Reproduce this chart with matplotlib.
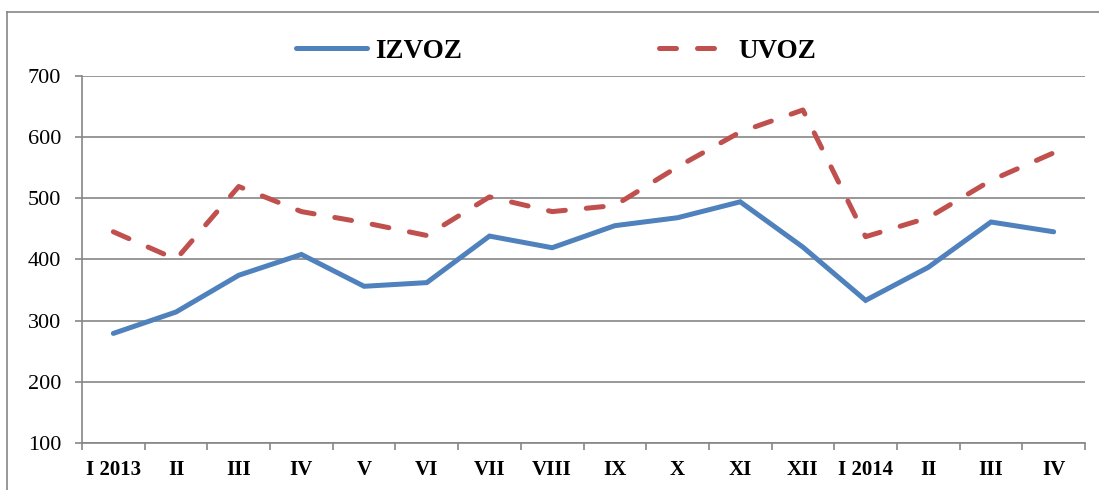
import matplotlib
matplotlib.use("Agg")
import matplotlib.pyplot as plt
from matplotlib.lines import Line2D
import numpy as np

categories = ["I 2013", "II", "III", "IV", "V", "VI", "VII", "VIII", "IX", "X",
              "XI", "XII", "I 2014", "II", "III", "IV"]
izvoz = [279, 314, 374, 408, 356, 362, 438, 419, 455, 468, 494, 420, 333, 387, 461, 445]
uvoz = [445, 400, 519, 478, 460, 439, 502, 478, 488, 551, 608, 644, 437, 468, 529, 574]
yticks = [100, 200, 300, 400, 500, 600, 700]

plt.rcParams['font.family'] = ['Liberation Serif', 'DejaVu Serif']

W, H = 1099, 490
fig = plt.figure(figsize=(W / 100, H / 100), dpi=100)
ax = fig.add_axes([82 / W, 1 - 443 / H, (1085 - 82) / W, (443 - 75.7) / H])

x = np.arange(len(categories))
blue = "#4F81BD"
red = "#C0504D"
ax.plot(x, izvoz, color=blue, lw=3.6, solid_capstyle='round', solid_joinstyle='miter', label="IZVOZ")
ax.plot(x, uvoz, color=red, lw=3.6, linestyle=(0, (3.4, 4.2)), dash_capstyle='round', label="UVOZ")

ax.set_xlim(-0.5, len(categories) - 0.5)
ax.set_ylim(100, 700)
ax.set_yticks(yticks)
ax.set_yticklabels([str(v) for v in yticks], fontsize=16)
ax.set_xticks(x)
ax.set_xticklabels(categories, fontsize=15, fontweight='bold')
ax.set_xticks(np.arange(-0.5, len(categories), 1), minor=True)
ax.tick_params(axis='x', which='major', length=0, pad=12)
ax.tick_params(axis='x', which='minor', length=5, color="#868686", width=1.2)
ax.tick_params(axis='y', length=5, color="#868686", width=1.2, pad=10)

ax.grid(axis='y', color="#868686", lw=1.2)
ax.set_axisbelow(True)
for s in ['top', 'right']:
    ax.spines[s].set_visible(False)
for s in ['left', 'bottom']:
    ax.spines[s].set_color("#868686")
    ax.spines[s].set_linewidth(1.2)

leg = fig.legend(loc='center', bbox_to_anchor=(556 / W, 1 - 51 / H), ncol=2, frameon=False,
                 prop={'weight': 'bold', 'size': 19.5}, handlelength=2.6, handletextpad=0.3,
                 columnspacing=7.3)

# outer chart border
fig.add_artist(Line2D([7 / W, 1.0], [1 - 12 / H, 1 - 12 / H], transform=fig.transFigure,
                      color="#868686", lw=1.2))
fig.add_artist(Line2D([7 / W, 7 / W], [1 - 12 / H, 0.0], transform=fig.transFigure,
                      color="#868686", lw=1.2))

fig.savefig("out.png", dpi=100)
